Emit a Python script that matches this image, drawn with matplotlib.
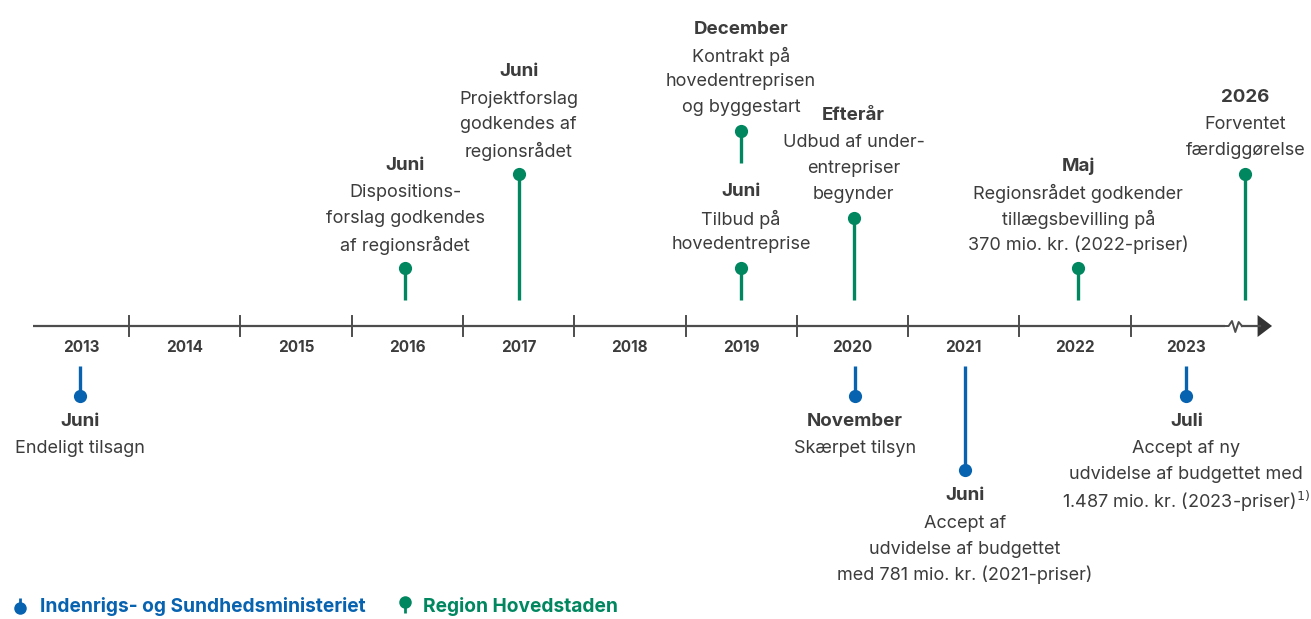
import numpy as np
import matplotlib.pyplot as plt

plt.rcParams['font.family'] = ['Inter', 'DejaVu Sans']

GREEN = "#00875f"
BLUE = "#0762b0"
INK = "#3c3c3c"
AXC = "#4d4d4d"

# years on the timeline (axis unit = one year, tick at start of each year)
years = [2013, 2014, 2015, 2016, 2017, 2018, 2019, 2020, 2021, 2022, 2023]

# events: position on axis (years), marker height, stem base, owner, title, body
ev_x     = [2013.56, 2016.48, 2017.50, 2019.50, 2019.50, 2020.51, 2022.53, 2024.03,
            2020.52, 2021.51, 2023.50]
ev_h     = [-70, 58, 152, 58, 195, 108, 58, 152, -70, -144, -70]
ev_base  = [-40, 26, 26, 26, 163, 26, 26, 26, -40, -40, -40]
ev_org   = ["b", "g", "g", "g", "g", "g", "g", "g", "b", "b", "b"]
ev_title = ["Juni", "Juni", "Juni", "Juni", "December", "Efterår", "Maj", "2026",
            "November", "Juni", "Juli"]
ev_body  = [
    ["Endeligt tilsagn"],
    ["Dispositions-", "forslag godkendes", "af regionsrådet"],
    ["Projektforslag", "godkendes af", "regionsrådet"],
    ["Tilbud på", "hovedentreprise"],
    ["Kontrakt på", "hovedentreprisen", "og byggestart"],
    ["Udbud af under-", "entrepriser", "begynder"],
    ["Regionsrådet godkender", "tillægsbevilling på", "370 mio. kr. (2022-priser)"],
    ["Forventet", "færdiggørelse"],
    ["Skærpet tilsyn"],
    ["Accept af", "udvidelse af budgettet", "med 781 mio. kr. (2021-priser)"],
    ["Accept af ny", "udvidelse af budgettet med", "1.487 mio. kr. (2023-priser)$^{1)}$"],
]

legend_labels = ["Indenrigs- og Sundhedsministeriet", "Region Hovedstaden"]

# axis scale: 111.3 px per year, tick 2014 at px 129, axis line at px 326
W, H = 1311, 619
pxy = 111.3
x0 = 2014 - 129 / pxy
x1 = 2014 + (W - 129) / pxy

fig = plt.figure(figsize=(W / 100, H / 100), dpi=100)
ax = fig.add_axes([0, 0, 1, 1])
ax.set_xlim(x0, x1)
ax.set_ylim(-(H - 326), 326)
ax.axis("off")

def px(p):
    return p / pxy

# main line with break and arrow
brk0, brk1 = 2023.85, 2024.00
ax.plot([2013.14, brk0], [0, 0], color=AXC, lw=1.6, solid_capstyle="butt")
zx = np.linspace(brk0, brk1, 6)
zy = [0, 0, 5, -6, 4, 0]
ax.plot(zx, zy, color=AXC, lw=1.4)
ax.plot([brk1, 2024.16], [0, 0], color=AXC, lw=1.6)
ax.fill([2024.14, 2024.14, 2024.27], [11, -11, 0], color="#333333", lw=0)

for y in years[1:]:
    ax.plot([y, y], [-10, 10], color=AXC, lw=1.4)
for y in years:
    xc = y + 0.5 if y != 2013 else (2013.14 + 2014) / 2
    ax.text(xc, -22, str(y), ha="center", va="center", fontsize=11,
            fontweight="bold", color=INK)

LS = 26
for x, h, b, o, t, body in zip(ev_x, ev_h, ev_base, ev_org, ev_title, ev_body):
    c = GREEN if o == "g" else BLUE
    ax.plot([x, x], [b, h], color=c, lw=2.4, solid_capstyle="butt", zorder=2)
    ax.plot(x, h, "o", color=c, ms=9.5, mec="none", zorder=3)
    n = len(body)
    if o == "g":
        ys = [h + 23 + LS * (n - 1 - i) for i in range(n)]
        ty = ys[0] + 27 if n else h + 23
    else:
        ty = h - 26
        ys = [ty - 27 - LS * i for i in range(n)]
    ax.text(x, ty, t, ha="center", va="center", fontsize=13.5, fontweight="bold",
            color=INK)
    for yy, line in zip(ys, body):
        ax.text(x, yy, line, ha="center", va="center", fontsize=13, color=INK)

# legend
ly = -281
lx = [2013.02, 2016.48]
# blue: stem above dot
ax.plot([lx[0], lx[0]], [ly + 9, ly + 2], color=BLUE, lw=2, solid_capstyle="butt")
ax.plot(lx[0], ly - 1, "o", color=BLUE, ms=9, mec="none")
ax.text(lx[0] + px(20), ly, legend_labels[0], ha="left", va="center", fontsize=13.8,
        fontweight="bold", color=BLUE)
# green: dot above stem
ax.plot([lx[1], lx[1]], [ly + 4, ly - 6], color=GREEN, lw=2, solid_capstyle="butt")
ax.plot(lx[1], ly + 5, "o", color=GREEN, ms=9, mec="none")
ax.text(lx[1] + px(18), ly, legend_labels[1], ha="left", va="center", fontsize=13.8,
        fontweight="bold", color=GREEN)

fig.savefig("out.png", dpi=100)
